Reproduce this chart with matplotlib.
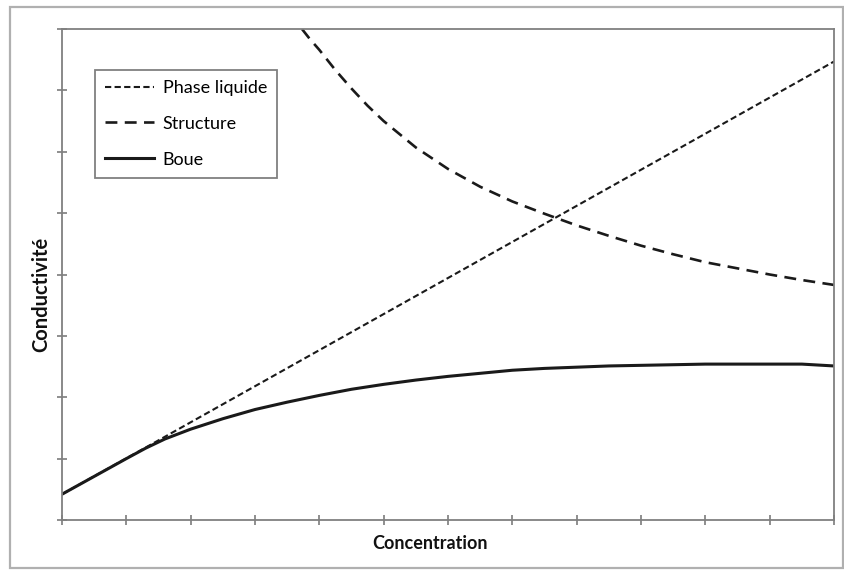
import matplotlib
matplotlib.use("Agg")
import matplotlib.pyplot as plt
from matplotlib.patches import Rectangle

plt.rcParams['font.family'] = ['Lato', 'DejaVu Sans']

# Data (arbitrary units; x 0-12, y 0-8)
x_phase = [0.0, 1.35, 12.0]
y_phase = [0.42, 1.21, 7.47]

x_struct = [3.73, 3.85, 4.0, 4.25, 4.5, 4.75, 5.0, 5.5, 6.0, 6.5, 7.0, 7.5, 8.0,
            8.5, 9.0, 9.5, 10.0, 10.5, 11.0, 11.5, 12.0]
y_struct = [8.0, 7.84, 7.66, 7.33, 7.03, 6.75, 6.50, 6.07, 5.72, 5.43, 5.19, 4.99, 4.80,
            4.63, 4.47, 4.33, 4.20, 4.10, 4.00, 3.91, 3.83]

x_boue = [0.0, 0.5, 1.0, 1.3, 1.6, 2.0, 2.5, 3.0, 3.5, 4.0, 4.5, 5.0, 5.5, 6.0, 6.5,
          7.0, 7.5, 8.0, 8.5, 9.0, 10.0, 11.0, 11.5, 12.0]
y_boue = [0.42, 0.71, 1.00, 1.17, 1.32, 1.48, 1.65, 1.80, 1.92, 2.03, 2.13, 2.21, 2.28,
          2.34, 2.39, 2.44, 2.47, 2.49, 2.51, 2.52, 2.54, 2.54, 2.54, 2.51]

labels = ["Phase liquide", "Structure", "Boue"]
xlabel = "Concentration"
ylabel = "Conductivité"

W, H = 845, 570
fig = plt.figure(figsize=(W / 100, H / 100), dpi=100)
fig.patch.set_facecolor('white')
fig.patches.append(Rectangle((10 / W, 2 / H), (843 - 10) / W, (563 - 2) / H,
                             transform=fig.transFigure, fill=False,
                             edgecolor='#b0b0b0', linewidth=1.6, zorder=0))

ax = fig.add_axes([62 / W, (570 - 520) / H, (834 - 62) / W, (520 - 29) / H])
ax.set_xlim(0, 12)
ax.set_ylim(0, 8)

lc = '#1a1a1a'
ax.plot(x_phase, y_phase, color=lc, lw=1.5, linestyle=(0, (3, 1.6)), label=labels[0])
ax.plot(x_struct, y_struct, color=lc, lw=1.9, linestyle=(0, (4.5, 2.8)), label=labels[1])
ax.plot(x_boue, y_boue, color=lc, lw=2.2, linestyle='-', label=labels[2])

ax.set_xticks(range(0, 13))
ax.set_yticks(range(0, 9))
ax.set_xticklabels([])
ax.set_yticklabels([])
ax.tick_params(direction='inout', length=7, width=1.1, color='#707070')
for s in ax.spines.values():
    s.set_color('#808080')
    s.set_linewidth(1.3)

ax.set_xlabel(xlabel, fontsize=13, fontweight='bold', color='#111111')
ax.set_ylabel(ylabel, fontsize=14.5, fontweight='bold', color='#111111')
ax.xaxis.set_label_coords((430.5 - 62) / 772, -0.031)
ax.yaxis.set_label_coords(-0.0145, (520 - 294) / 491)

leg = ax.legend(loc='upper left', bbox_to_anchor=((95 - 62) / 772, (520 - 70) / 491),
                borderaxespad=0, fancybox=False, framealpha=1, edgecolor='#808080',
                fontsize=13, handlelength=2.7, handletextpad=0.5, labelspacing=1.1,
                borderpad=0.55)
leg.get_frame().set_linewidth(1.3)

fig.savefig('out.png', dpi=100, facecolor='white')
